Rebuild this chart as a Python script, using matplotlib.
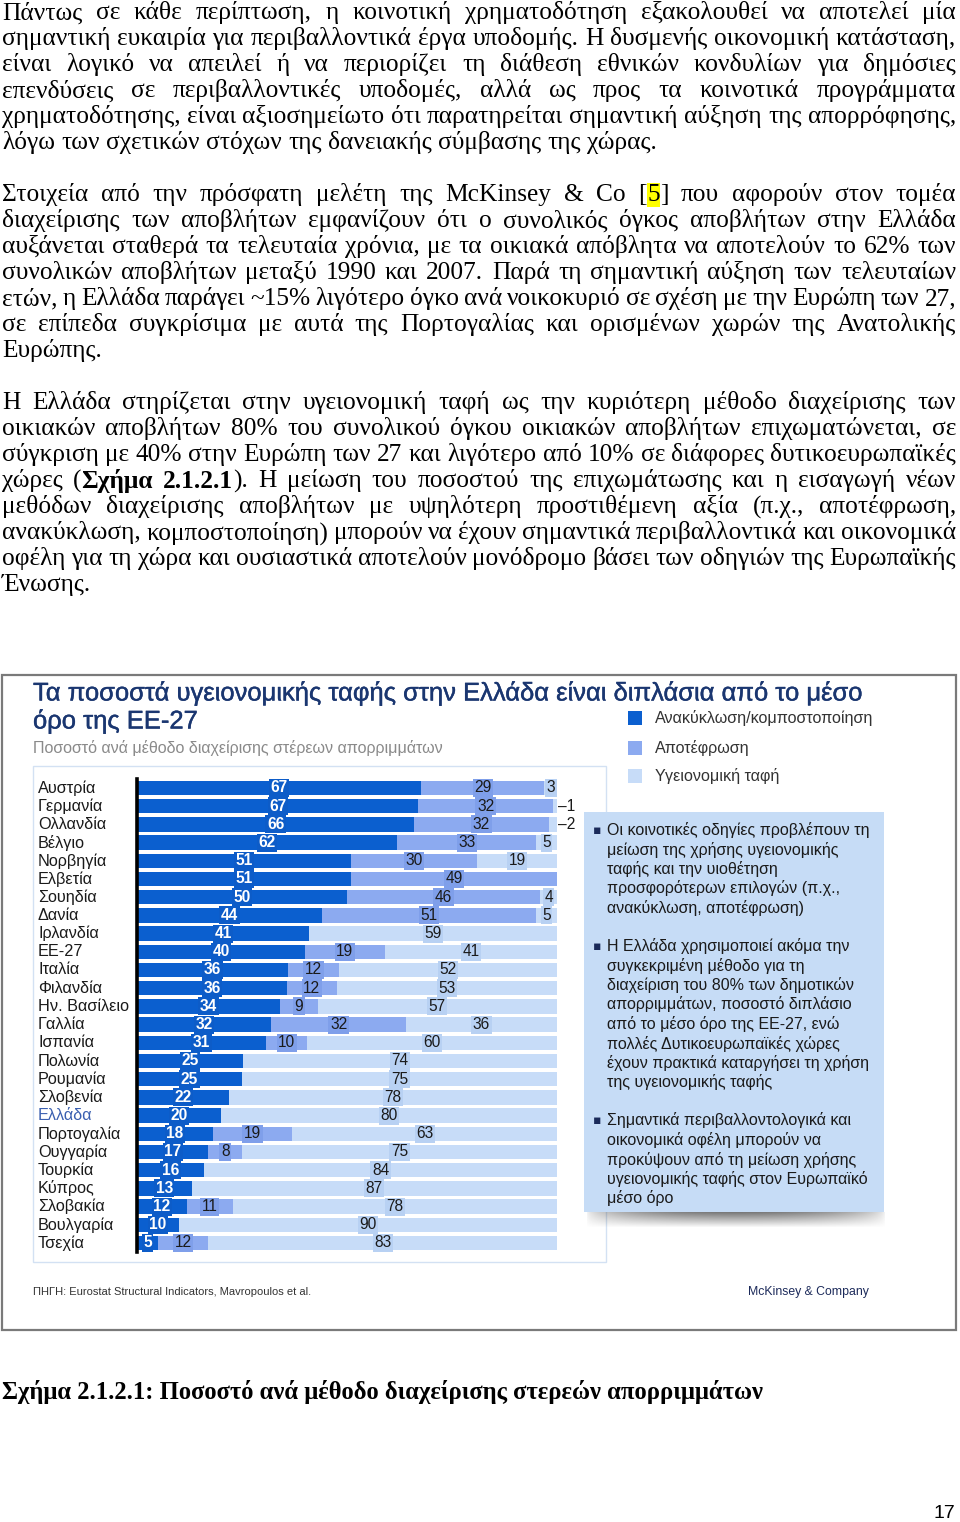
import numpy as np
import matplotlib
matplotlib.use("Agg")
import matplotlib.pyplot as plt
import matplotlib.patheffects as pe
from matplotlib.patches import Rectangle

SERIF = ["Liberation Serif", "DejaVu Serif"]
SANS = ["Liberation Sans", "DejaVu Sans"]
NARROW = ["Liberation Sans Narrow", "Liberation Sans"]

# --- chart data (percent per waste treatment method) ---
countries = ["Αυστρία", "Γερμανία", "Ολλανδία", "Βέλγιο", "Νορβηγία", "Ελβετία",
             "Σουηδία", "Δανία", "Ιρλανδία", "ΕΕ-27", "Ιταλία", "Φιλανδία",
             "Ην. Βασίλειο", "Γαλλία", "Ισπανία", "Πολωνία", "Ρουμανία", "Σλοβενία",
             "Ελλάδα", "Πορτογαλία", "Ουγγαρία", "Τουρκία", "Κύπρος", "Σλοβακία",
             "Βουλγαρία", "Τσεχία"]
recycling = [67, 67, 66, 62, 51, 51, 50, 44, 41, 40, 36, 36, 34, 32, 31, 25, 25, 22,
             20, 18, 17, 16, 13, 12, 10, 5]
incineration = [29, 32, 32, 33, 30, 49, 46, 51, 0, 19, 12, 12, 9, 32, 10, 0, 0, 0,
                0, 19, 8, 0, 0, 11, 0, 12]
landfill = [3, 1, 2, 5, 19, 0, 4, 5, 59, 41, 52, 53, 57, 36, 60, 74, 75, 78,
            80, 63, 75, 84, 87, 78, 90, 83]
series_names = ["Ανακύκλωση/κομποστοποίηση", "Αποτέφρωση", "Υγειονομική ταφή"]
highlight = "Ελλάδα"

chart_title = ["Τα ποσοστά υγειονομικής ταφής στην Ελλάδα είναι διπλάσια από το μέσο",
               "όρο της ΕΕ-27"]
chart_subtitle = "Ποσοστό ανά μέθοδο διαχείρισης στέρεων απορριμμάτων"
source_text = "ΠΗΓΗ: Eurostat Structural Indicators, Mavropoulos et al."
brand_text = "McKinsey & Company"

bullets = [
    ["Οι κοινοτικές οδηγίες προβλέπουν τη", "μείωση της χρήσης υγειονομικής",
     "ταφής και την υιοθέτηση", "προσφορότερων επιλογών (π.χ.,",
     "ανακύκλωση, αποτέφρωση)"],
    ["Η Ελλάδα χρησιμοποιεί ακόμα την", "συγκεκριμένη μέθοδο για τη",
     "διαχείριση του 80% των δημοτικών", "απορριμμάτων, ποσοστό διπλάσιο",
     "από το μέσο όρο της ΕΕ-27, ενώ", "πολλές Δυτικοευρωπαϊκές χώρες",
     "έχουν πρακτικά καταργήσει τη χρήση", "της υγειονομικής ταφής"],
    ["Σημαντικά περιβαλλοντολογικά και", "οικονομικά οφέλη μπορούν να",
     "προκύψουν από τη μείωση χρήσης", "υγειονομικής ταφής στον Ευρωπαϊκό",
     "μέσο όρο"],
]

# page text, '*' toggles bold, '#' toggles yellow highlight
para1 = [
    "Πάντως σε κάθε περίπτωση, η κοινοτική χρηματοδότηση εξακολουθεί να αποτελεί μία",
    "σημαντική ευκαιρία για περιβαλλοντικά έργα υποδομής. Η δυσμενής οικονομική κατάσταση,",
    "είναι λογικό να απειλεί ή να περιορίζει τη διάθεση εθνικών κονδυλίων για δημόσιες",
    "επενδύσεις σε περιβαλλοντικές υποδομές, αλλά ως προς τα κοινοτικά προγράμματα",
    "χρηματοδότησης, είναι αξιοσημείωτο ότι παρατηρείται σημαντική αύξηση της απορρόφησης,",
    "λόγω των σχετικών στόχων της δανειακής σύμβασης της χώρας.",
]
para2 = [
    "Στοιχεία από την πρόσφατη μελέτη της McKinsey & Co [#5#] που αφορούν στον τομέα",
    "διαχείρισης των αποβλήτων εμφανίζουν ότι ο συνολικός όγκος αποβλήτων στην Ελλάδα",
    "αυξάνεται σταθερά τα τελευταία χρόνια, με τα οικιακά απόβλητα να αποτελούν το 62% των",
    "συνολικών αποβλήτων μεταξύ 1990 και 2007. Παρά τη σημαντική αύξηση των τελευταίων",
    "ετών, η Ελλάδα παράγει ~15% λιγότερο όγκο ανά νοικοκυριό σε σχέση με την Ευρώπη των 27,",
    "σε επίπεδα συγκρίσιμα με αυτά της Πορτογαλίας και ορισμένων χωρών της Ανατολικής",
    "Ευρώπης.",
]
para3 = [
    "Η Ελλάδα στηρίζεται στην υγειονομική ταφή ως την κυριότερη μέθοδο διαχείρισης των",
    "οικιακών αποβλήτων 80% του συνολικού όγκου οικιακών αποβλήτων επιχωματώνεται, σε",
    "σύγκριση με 40% στην Ευρώπη των 27 και λιγότερο από 10% σε διάφορες δυτικοευρωπαϊκές",
    "χώρες (*Σχήμα 2.1.2.1*). Η μείωση του ποσοστού της επιχωμάτωσης και η εισαγωγή νέων",
    "μεθόδων διαχείρισης αποβλήτων με υψηλότερη προστιθέμενη αξία (π.χ., αποτέφρωση,",
    "ανακύκλωση, κομποστοποίηση) μπορούν να έχουν σημαντικά περιβαλλοντικά και οικονομικά",
    "οφέλη για τη χώρα και ουσιαστικά αποτελούν μονόδρομο βάσει των οδηγιών της Ευρωπαϊκής",
    "Ένωσης.",
]
caption = "Σχήμα 2.1.2.1: Ποσοστό ανά μέθοδο διαχείρισης στερεών απορριμμάτων"
page_number = "17"

bar_colors = ["#0b5fcf", "#8caaf0", "#c7dcf8"]
box_colors = ["#0d5cc8", "#7f9fea", "#b8d1f3"]
label_colors = ["white", "#1a1a1a", "#1a1a1a"]

W, H = 960, 1522
fig = plt.figure(figsize=(W / 100, H / 100), dpi=100)
page = fig.add_axes([0, 0, 1, 1])
page.set_xlim(0, W)
page.set_ylim(H, 0)
page.axis("off")
renderer = fig.canvas.get_renderer()


def parse_tokens(line, state):
    tokens = []
    for w in line.split():
        segs = []
        cur = ""
        for ch in w:
            if ch in "*#":
                if cur:
                    segs.append((cur, dict(state)))
                    cur = ""
                key = "b" if ch == "*" else "h"
                state[key] = not state[key]
            else:
                cur += ch
        if cur:
            segs.append((cur, dict(state)))
        tokens.append(segs)
    return tokens


def text_line(y, line, state, last=False, x0=2, x1=956, size=18.3):
    tokens = parse_tokens(line, state)
    while True:
        items, widths = [], []
        for segs in tokens:
            arts, w = [], 0
            for s, st in segs:
                t = page.text(0, y, s, fontsize=size, family=SERIF, va="center",
                              ha="left", color="black",
                              fontweight="bold" if st["b"] else "normal")
                tw = t.get_window_extent(renderer).width
                arts.append((t, w, st))
                w += tw
            items.append(arts)
            widths.append(w)
        space = size * 100 / 72 * 0.25
        need = sum(widths) + space * 0.75 * (len(items) - 1)
        if need <= x1 - x0 or last:
            break
        # too long for the line: shrink slightly and measure again
        for arts in items:
            for t, _, _ in arts:
                t.remove()
        size *= 0.99
    if last or len(items) == 1:
        gap = space
    else:
        gap = (x1 - x0 - sum(widths)) / (len(items) - 1)
    x = x0
    for arts, w in zip(items, widths):
        for t, off, st in arts:
            t.set_x(x + off)
            if st["h"]:
                t.set_bbox(dict(facecolor="#ffff00", edgecolor="none", pad=0.4))
        x += w + gap


def paragraph(lines, y0, step=26):
    state = {"b": False, "h": False}
    for i, ln in enumerate(lines):
        text_line(y0 + i * step, ln, state, last=(i == len(lines) - 1))


paragraph(para1, 13)
paragraph(para2, 195)
paragraph(para3, 403)

# --- chart frame ---
page.add_patch(Rectangle((2, 675), 954, 655, fill=False, edgecolor="#7a7a7a", lw=1.6))
page.add_patch(Rectangle((33, 766), 573, 496, fill=False, edgecolor="#d3e1f3", lw=1.0))

title_fx = [pe.withStroke(linewidth=0.3, foreground="#1a3670")]
page.text(33, 693, chart_title[0], fontsize=18.4, family=SANS, color="#1a3670",
          va="center", ha="left", path_effects=title_fx)
page.text(33, 721, chart_title[1], fontsize=18.4, family=SANS, color="#1a3670",
          va="center", ha="left", path_effects=title_fx)
page.text(33, 748, chart_subtitle, fontsize=11.5, family=SANS, color="#8a8a8a",
          va="center", ha="left")

# legend
for i, name in enumerate(series_names):
    yy = [718, 748, 776][i]
    page.add_patch(Rectangle((628, yy - 7), 14, 14, facecolor=bar_colors[i], edgecolor="none"))
    page.text(655, yy, name, fontsize=11.6, family=SANS, color="#333333",
              va="center", ha="left")

# bullets box with shadow
grad_y = np.linspace(1, 0, 16)[:, None]
grad_x = np.sin(np.linspace(0, np.pi, 300))[None, :] ** 0.5
shadow = np.zeros((16, 300, 4))
shadow[..., :3] = 0.3
shadow[..., 3] = 0.75 * grad_y * grad_x
page.imshow(shadow, extent=[586, 886, 1228, 1212], aspect="auto", zorder=1)
page.add_patch(Rectangle((584, 812), 300, 400, facecolor="#c6dcf6", edgecolor="none", zorder=2))

y = 830
for block in bullets:
    page.text(593, y, "▪", fontsize=9, family=["DejaVu Sans"], color="#1a2a5a",
              va="center", ha="left", zorder=3)
    for ln in block:
        page.text(607, y, ln, fontsize=11.5, family=SANS, color="#1a1a1a",
                  va="center", ha="left", zorder=3)
        y += 19.5
    y += 18.5

page.text(33, 1292, source_text, fontsize=8, family=NARROW,
          color="#333333", va="center", ha="left")
page.text(748, 1292, brand_text, fontsize=8.8, family=NARROW,
          color="#1c2a5a", va="center", ha="left")

page.text(2, 1392, caption, fontsize=17.7, family=SERIF, fontweight="bold",
          va="center", ha="left")
page.text(955, 1513, page_number, fontsize=14, family=NARROW,
          va="center", ha="right")

# --- bar chart ---
n = len(countries)
row0, step = 788, 18.2
top = row0 - step / 2
left_px, right_px = 137, 557
ax = fig.add_axes([left_px / W, 1 - (top + n * step) / H,
                   (right_px - left_px) / W, n * step / H])
ax.set_xlim(0, 100)
ax.set_ylim(n - 0.5, -0.5)
for s in ["top", "right", "bottom"]:
    ax.spines[s].set_visible(False)
ax.spines["left"].set_linewidth(2.6)
ax.spines["left"].set_color("black")
ax.set_xticks([])
ax.set_yticks([])
ax.patch.set_alpha(0)

data = np.array([recycling, incineration, landfill], dtype=float)
totals = data.sum(axis=0)
widths = data / totals * 100
ypos = np.arange(n)
lefts = np.zeros(n)
for k in range(3):
    ax.barh(ypos, widths[k], left=lefts, height=0.8, color=bar_colors[k],
            edgecolor="none", zorder=2)
    for i in range(n):
        v = data[k, i]
        if v == 0:
            continue
        if v <= 2:
            ax.text(lefts[i] + widths[k, i] + 0.2, i, "–" + str(int(v)), fontsize=11.2,
                    family=SANS, color="#1a1a1a", va="center", ha="left", zorder=4)
            continue
        ax.text(lefts[i] + widths[k, i] / 2, i, str(int(v)), fontsize=11.2,
                family=SANS, color=label_colors[k],
                fontweight="bold" if k == 0 else "normal",
                va="center", ha="center", zorder=4,
                bbox=dict(boxstyle="square,pad=0.1", facecolor=box_colors[k],
                          edgecolor="none"))
    lefts = lefts + widths[k]

for i, c in enumerate(countries):
    page.text(38, row0 + i * step, c, fontsize=11.7, family=SANS,
              color="#3a5fb0" if c == highlight else "#1a1a1a",
              va="center", ha="left")

fig.savefig("out.png", dpi=100)
